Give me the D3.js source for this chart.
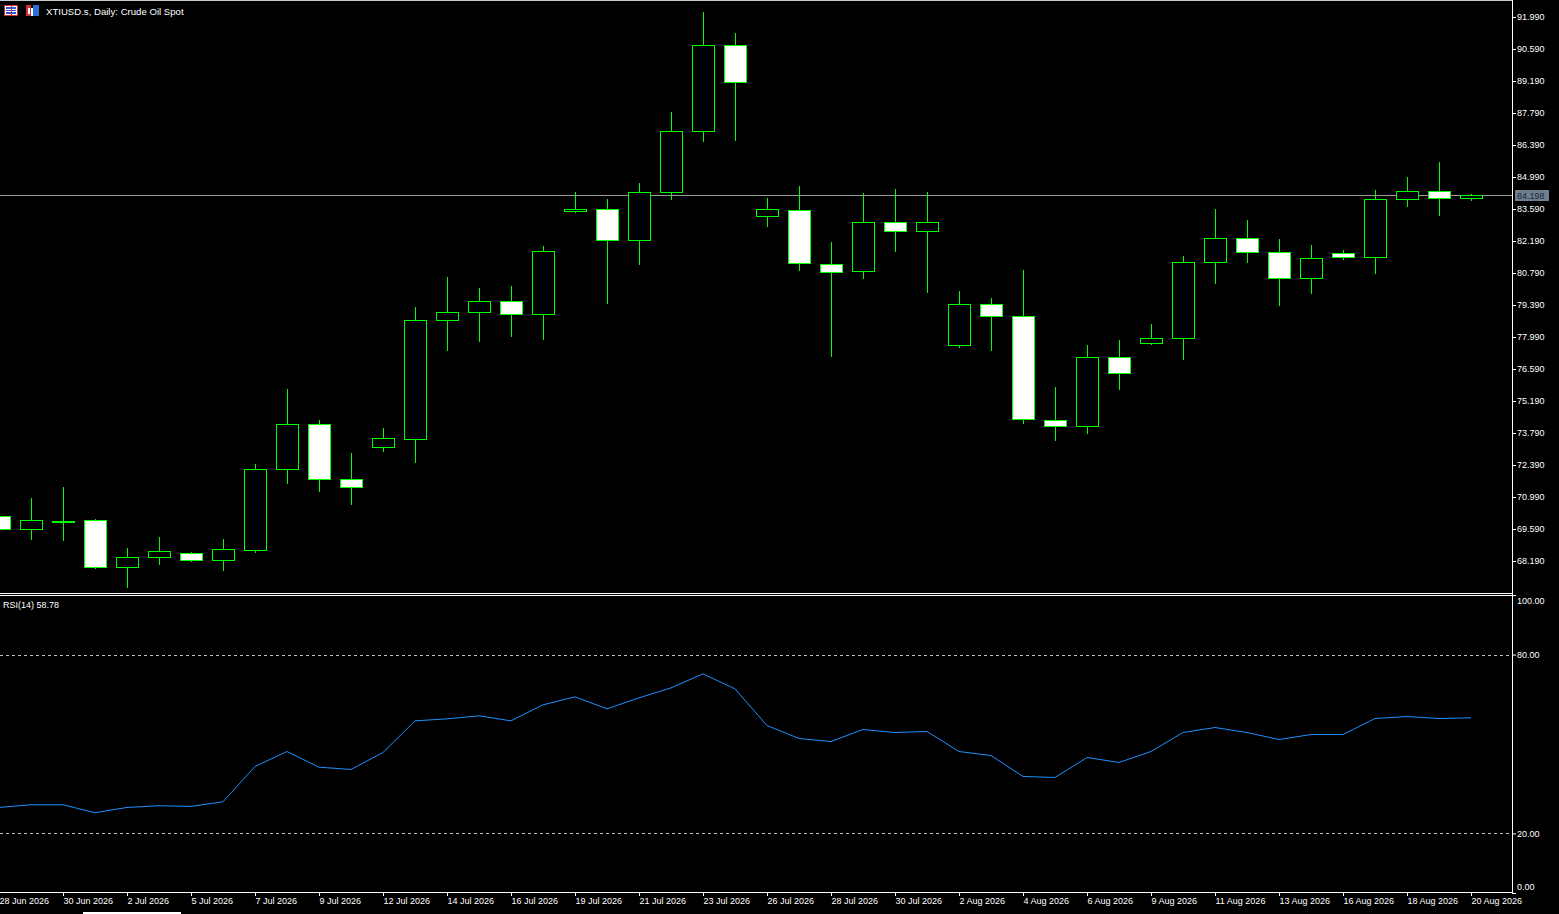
<!DOCTYPE html>
<html>
<head>
<meta charset="utf-8">
<script src="https://cdn.jsdelivr.net/npm/d3@7"></script>
<style>
  html, body { margin: 0; padding: 0; background: #000; }
  svg { display: block; }
  text { font-family: "Liberation Sans", Arial, sans-serif; font-size: 9px; fill: #fff; }
</style>
</head>
<body>
<script>
const width = 1559;
const height = 914;
const axisX = 1512;
const mainBottom = 593;
const rsiTop = 595, rsiBottom = 893;

// bar dates (daily, Sun-Fri sessions)
const dates = ["28 Jun", "29 Jun", "30 Jun", "1 Jul", "2 Jul", "3 Jul",
  "5 Jul", "6 Jul", "7 Jul", "8 Jul", "9 Jul", "10 Jul",
  "12 Jul", "13 Jul", "14 Jul", "15 Jul", "16 Jul", "17 Jul",
  "19 Jul", "20 Jul", "21 Jul", "22 Jul", "23 Jul", "24 Jul",
  "26 Jul", "27 Jul", "28 Jul", "29 Jul", "30 Jul", "31 Jul",
  "2 Aug", "3 Aug", "4 Aug", "5 Aug", "6 Aug", "7 Aug",
  "9 Aug", "10 Aug", "11 Aug", "12 Aug", "13 Aug", "14 Aug",
  "16 Aug", "17 Aug", "18 Aug", "19 Aug", "20 Aug"];

const open  = [70.16, 69.59, 69.95, 69.98, 67.91, 68.35, 68.53, 68.22, 68.68, 72.20, 74.17, 71.76,
  73.16, 73.54, 78.72, 79.07, 79.55, 78.98, 83.49, 83.58, 82.22, 84.32, 86.99, 90.75,
  83.27, 83.54, 81.20, 80.87, 83.01, 82.61, 77.63, 79.42, 78.90, 74.35, 74.08, 77.10,
  77.71, 77.93, 81.26, 82.31, 81.70, 80.56, 81.65, 81.48, 84.01, 84.36, 84.06];
const high  = [70.40, 70.95, 71.43, 70.03, 68.76, 69.24, 68.58, 69.15, 72.43, 75.71, 74.36, 72.91,
  74.01, 79.30, 80.62, 80.13, 80.22, 81.97, 84.33, 84.03, 84.73, 87.83, 92.21, 91.29,
  84.07, 84.60, 82.13, 84.29, 84.47, 84.33, 80.00, 79.70, 80.92, 75.80, 77.64, 77.86,
  78.56, 81.53, 83.59, 83.11, 82.28, 82.01, 81.80, 84.42, 84.99, 85.65, 84.25];
const low   = [69.40, 69.11, 69.08, 67.85, 67.02, 68.03, 68.16, 67.77, 68.55, 71.57, 71.22, 70.65,
  72.97, 72.49, 77.39, 77.78, 78.00, 77.87, 83.40, 79.45, 81.15, 84.00, 86.53, 86.58,
  82.82, 80.89, 77.13, 80.54, 81.72, 79.93, 77.52, 77.39, 74.20, 73.45, 73.76, 75.68,
  77.65, 77.00, 80.32, 81.24, 79.36, 79.89, 81.37, 80.76, 83.69, 83.30, 83.95];
const close = [69.59, 69.98, 69.95, 67.91, 68.36, 68.61, 68.22, 68.70, 72.20, 74.17, 71.76, 71.41,
  73.56, 78.72, 79.07, 79.55, 78.98, 81.74, 83.58, 82.22, 84.32, 86.99, 90.75, 89.13,
  83.58, 81.21, 80.82, 83.01, 82.61, 83.01, 79.42, 78.90, 74.39, 74.08, 77.10, 76.40,
  77.93, 81.26, 82.31, 81.70, 80.56, 81.43, 81.48, 84.01, 84.36, 84.06, 84.198];

// RSI(14)
const rsi = [28.71, 29.61, 29.61, 26.93, 28.71, 29.28, 29.05, 30.62, 42.45, 47.48, 42.22, 41.45,
  47.15, 57.77, 58.44, 59.45, 57.77, 63.14, 65.82, 61.80, 65.48, 68.84, 73.53, 68.50,
  56.20, 51.84, 50.83, 54.86, 53.85, 54.19, 47.48, 46.14, 39.10, 38.77, 45.47, 43.80,
  47.48, 53.85, 55.53, 53.85, 51.51, 53.18, 53.18, 58.55, 59.22, 58.55, 58.78];

const priceTicks = [91.99, 90.59, 89.19, 87.79, 86.39, 84.99, 83.59, 82.19, 80.79,
  79.39, 77.99, 76.59, 75.19, 73.79, 72.39, 70.99, 69.59, 68.19];
const rsiTicks = [100, 80, 20, 0];
const rsiLevels = [80, 20];
const lastPrice = 84.198;

const svg = d3.select("body").append("svg")
    .attr("width", width)
    .attr("height", height)
    .style("background", "#000");

const x = d3.scalePoint().domain(dates).range([-1, 1471]);
const y = d3.scaleLinear().domain([68.19, 91.99]).range([561, 17]);
const yr = d3.scaleLinear().domain([0, 100]).range([rsiBottom, rsiTop]);
const px = d => Math.round(x(d)) + 0.5;

svg.append("clipPath").attr("id", "mainclip")
  .append("rect").attr("x", 0).attr("y", 1).attr("width", axisX).attr("height", mainBottom - 1);
svg.append("clipPath").attr("id", "rsiclip")
  .append("rect").attr("x", 0).attr("y", rsiTop + 1).attr("width", axisX).attr("height", rsiBottom - rsiTop - 1);

// frame lines
const frame = svg.append("g").attr("stroke", "#fff").attr("shape-rendering", "crispEdges");
frame.append("line").attr("x1", 0).attr("x2", axisX).attr("y1", 0.5).attr("y2", 0.5).attr("stroke", "#c8c8c8");
frame.append("line").attr("x1", 0).attr("x2", axisX).attr("y1", mainBottom + 0.5).attr("y2", mainBottom + 0.5);
frame.append("line").attr("x1", 0).attr("x2", axisX).attr("y1", rsiTop + 0.5).attr("y2", rsiTop + 0.5);
frame.append("line").attr("x1", 0).attr("x2", axisX).attr("y1", rsiBottom - 0.5).attr("y2", rsiBottom - 0.5);
frame.append("line").attr("x1", axisX + 0.5).attr("x2", axisX + 0.5).attr("y1", 0).attr("y2", rsiBottom);

// current price line
svg.append("line")
    .attr("x1", 0).attr("x2", axisX)
    .attr("y1", Math.round(y(lastPrice)) + 0.5).attr("y2", Math.round(y(lastPrice)) + 0.5)
    .attr("stroke", "#9a9a9a")
    .attr("shape-rendering", "crispEdges");

// candles
const bars = d3.range(dates.length);
const candles = svg.append("g").attr("clip-path", "url(#mainclip)").attr("shape-rendering", "crispEdges");
candles.selectAll("line.wick").data(bars).join("line")
    .attr("class", "wick")
    .attr("x1", i => px(dates[i])).attr("x2", i => px(dates[i]))
    .attr("y1", i => Math.round(y(high[i]))).attr("y2", i => Math.round(y(low[i])))
    .attr("stroke", "#00ff00");
candles.selectAll("rect.body").data(bars).join("rect")
    .attr("class", "body")
    .attr("x", i => px(dates[i]) - 11)
    .attr("width", 22)
    .attr("y", i => Math.round(y(Math.max(open[i], close[i]))) + 0.5)
    .attr("height", i => Math.max(1, Math.round(y(Math.min(open[i], close[i]))) - Math.round(y(Math.max(open[i], close[i])))))
    .attr("fill", i => close[i] >= open[i] ? "#000" : "#fff")
    .attr("stroke", "#00ff00");

// price axis
const yAxis = svg.append("g")
    .attr("transform", `translate(${axisX},0)`)
    .call(d3.axisRight(y).tickValues(priceTicks).tickFormat(d3.format(".3f")).tickSize(4).tickPadding(1));
yAxis.select(".domain").remove();
yAxis.selectAll(".tick line").attr("stroke", "#fff");
yAxis.selectAll(".tick text").attr("fill", "#fff").style("font-size", "9px").attr("font-family", null);

// last price label
const lp = svg.append("g").attr("transform", `translate(1515,${Math.round(y(lastPrice))})`);
lp.append("rect").attr("x", 0).attr("y", -5).attr("width", 34).attr("height", 11).attr("fill", "#6f7f90");
lp.append("text").attr("x", 2).attr("y", 4).style("fill", "#1c2836").text(d3.format(".3f")(lastPrice));

// RSI levels
svg.append("g").selectAll("line").data(rsiLevels).join("line")
    .attr("x1", 0).attr("x2", axisX)
    .attr("y1", d => Math.round(yr(d)) + 0.5).attr("y2", d => Math.round(yr(d)) + 0.5)
    .attr("stroke", "#c0c0c0")
    .attr("stroke-dasharray", "3,3")
    .attr("shape-rendering", "crispEdges");

// RSI line
svg.append("path")
    .datum(rsi)
    .attr("clip-path", "url(#rsiclip)")
    .attr("fill", "none")
    .attr("stroke", "#1e90ff")
    .attr("stroke-width", 1)
    .attr("d", d3.line().x((d, i) => x(dates[i])).y(d => yr(d)));

// RSI axis
const rAxis = svg.append("g")
    .attr("transform", `translate(${axisX},0)`)
    .call(d3.axisRight(yr).tickValues(rsiTicks).tickFormat(d3.format(".2f")).tickSize(4).tickPadding(1));
rAxis.select(".domain").remove();
rAxis.selectAll(".tick line").attr("stroke", "#fff");
rAxis.selectAll(".tick text").attr("fill", "#fff").style("font-size", "9px").attr("font-family", null)
    .attr("dy", d => d === 100 ? "0.9em" : d === 0 ? "-0.35em" : "0.32em");

// date axis
const labelDates = dates.filter((d, i) => i % 2 === 0);
const xAxis = svg.append("g")
    .attr("transform", `translate(0,${rsiBottom - 1})`)
    .call(d3.axisBottom(x).tickValues(labelDates).tickFormat(d => d + " 2026").tickSize(4).tickPadding(2));
xAxis.select(".domain").remove();
xAxis.selectAll(".tick").attr("transform", d => `translate(${px(d)},0)`);
xAxis.selectAll(".tick line").attr("stroke", "#fff");
xAxis.selectAll(".tick text").attr("fill", "#fff").style("font-size", "9px").attr("font-family", null)
    .attr("text-anchor", "start").attr("x", 0).attr("y", 4).attr("dy", "0.9em");

// scroll marker at the bottom
svg.append("rect").attr("x", 83).attr("y", 912).attr("width", 98).attr("height", 2).attr("fill", "#fff");

// title with icons
const icons = svg.append("g").attr("shape-rendering", "crispEdges");
icons.append("rect").attr("x", 4.5).attr("y", 5.5).attr("width", 13).attr("height", 10).attr("fill", "#fff").attr("stroke", "#d03030");
icons.selectAll("line.ic").data([8, 10.5, 13]).join("line")
    .attr("x1", 6).attr("x2", 16).attr("y1", d => d).attr("y2", d => d)
    .attr("stroke", "#2a5bd7").attr("stroke-width", 1.5);
icons.append("line").attr("x1", 11).attr("x2", 11).attr("y1", 6).attr("y2", 15).attr("stroke", "#d03030");
icons.append("rect").attr("x", 26).attr("y", 5).attr("width", 5).attr("height", 11).attr("fill", "#d03030");
icons.append("rect").attr("x", 31).attr("y", 8).attr("width", 2).attr("height", 8).attr("fill", "#fff");
icons.append("rect").attr("x", 33).attr("y", 5).attr("width", 6).attr("height", 11).attr("fill", "#2a6fd7");
icons.append("rect").attr("x", 27.5).attr("y", 8).attr("width", 2).attr("height", 6).attr("fill", "#fff");

svg.append("text").attr("x", 46).attr("y", 15).style("font-size", "9.6px").text("XTIUSD.s, Daily:  Crude Oil Spot");
svg.append("text").attr("x", 3).attr("y", 608).text("RSI(14) " + d3.format(".2f")(rsi[rsi.length - 1]));
</script>
</body>
</html>
